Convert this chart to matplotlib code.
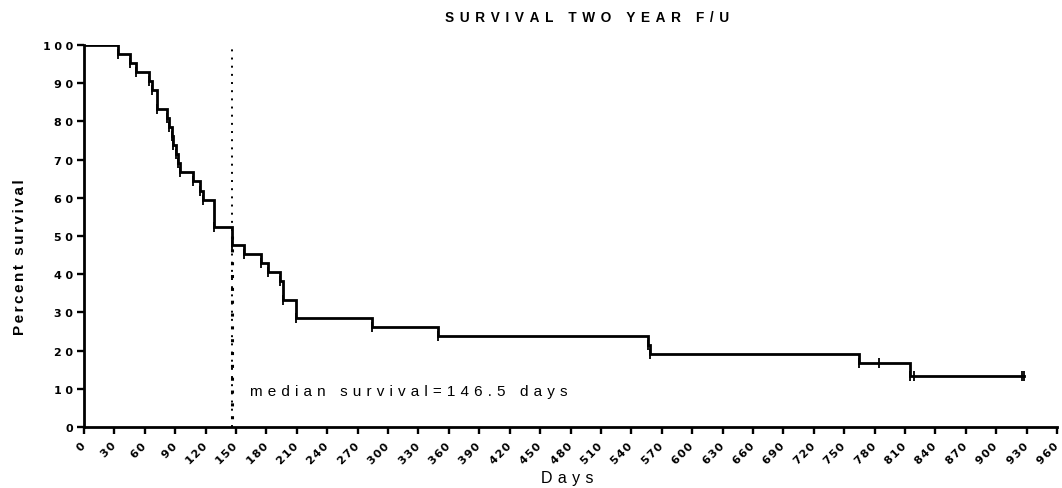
import matplotlib
matplotlib.use("Agg")
import matplotlib.pyplot as plt

plt.rcParams['font.family'] = ['Liberation Sans', 'DejaVu Sans']

# Kaplan-Meier steps (day of drop, survival % after the drop)
step_days = [0, 33.9, 45.1, 51, 64.2, 67.4, 72.4, 82.2, 84.2, 86.6, 88.2, 90.8, 93.1,
             94.8, 107.9, 114.5, 117.8, 128.3, 146.5, 158.2, 174.7, 181.9, 193.5,
             196.7, 209.3, 284, 348.8, 556.1, 558.7, 764.4, 814.7]
step_pct = [100, 97.6, 95.2, 92.9, 90.5, 88.1, 83.3, 81.0, 78.6, 76.2, 73.8, 71.4, 69.0,
            66.7, 64.3, 61.9, 59.5, 52.4, 47.6, 45.2, 42.9, 40.5, 38.1,
            33.3, 28.6, 26.2, 23.8, 21.4, 19.0, 16.7, 13.3]
last_day = 927.2

# censored subjects
cens_days = [784.1, 818.7, 925.7, 927.2]
cens_pct = [16.7, 13.3, 13.3, 13.3]

median_day = 146.5
x_ticks = list(range(0, 961, 30))
y_ticks = list(range(0, 101, 10))


def spaced(s, gap):
    # wide letter spacing like the original export
    return gap.join(s)


fig = plt.figure(figsize=(10.62, 4.89), dpi=100)
ax = fig.add_axes([84/1062, 1-428/489, (1057-84)/1062, (428-46)/489])

ax.step(step_days + [last_day], step_pct + [step_pct[-1]], where='post',
        color='black', lw=2.0, solid_joinstyle='miter')
# small tick marks at each drop and at censored times
ax.plot(step_days[1:], step_pct[1:], ls='none', marker='|', ms=7, mew=1.3, color='black')
ax.plot(cens_days, cens_pct, ls='none', marker='|', ms=7, mew=1.3, color='black')

# median line
ax.plot([median_day, median_day], [0, 100], color='black', ls=(0, (1, 3.2)), lw=1.4)
ax.plot([median_day, median_day], [0, 50], color='black', ls=(1.5, (1, 3.2)), lw=2.2)

ax.text(164, 9.5, spaced("median survival=146.5 days", "\u2004"), fontsize=11,
        ha='left', va='center')

ax.set_xlim(0, 960)
ax.set_ylim(0, 100)
ax.set_xticks(x_ticks)
ax.set_yticks(y_ticks)
ax.set_xticklabels([spaced(str(t), "\u200a") for t in x_ticks], fontsize=8,
                   fontweight='bold', family=['DejaVu Sans'],
                   rotation=45, ha='right', va='center', rotation_mode='anchor')
ax.set_yticklabels([spaced(str(t), "\u2004") for t in y_ticks], fontsize=8,
                   fontweight='bold', family=['DejaVu Sans'])

for s in ['top', 'right']:
    ax.spines[s].set_visible(False)
for s in ['left', 'bottom']:
    ax.spines[s].set_linewidth(2.0)
ax.tick_params(axis='both', direction='out', length=5, width=1.7)
ax.tick_params(axis='x', pad=7)
ax.tick_params(axis='y', pad=3)

fig.text(587/1062, 1-18/489, spaced("SURVIVAL TWO YEAR F/U", "\u2005\u2006"),
         fontsize=9.8, fontweight='bold', ha='center', va='center')
fig.text(20/1062, 1-257/489, spaced("Percent survival", "\u2006"), fontsize=11,
         fontweight='bold', rotation=90, ha='center', va='center')
fig.text(567/1062, 1-479/489, spaced("Days", "\u2004"), fontsize=11.5,
         ha='center', va='center')

fig.savefig("out.png", dpi=100)
